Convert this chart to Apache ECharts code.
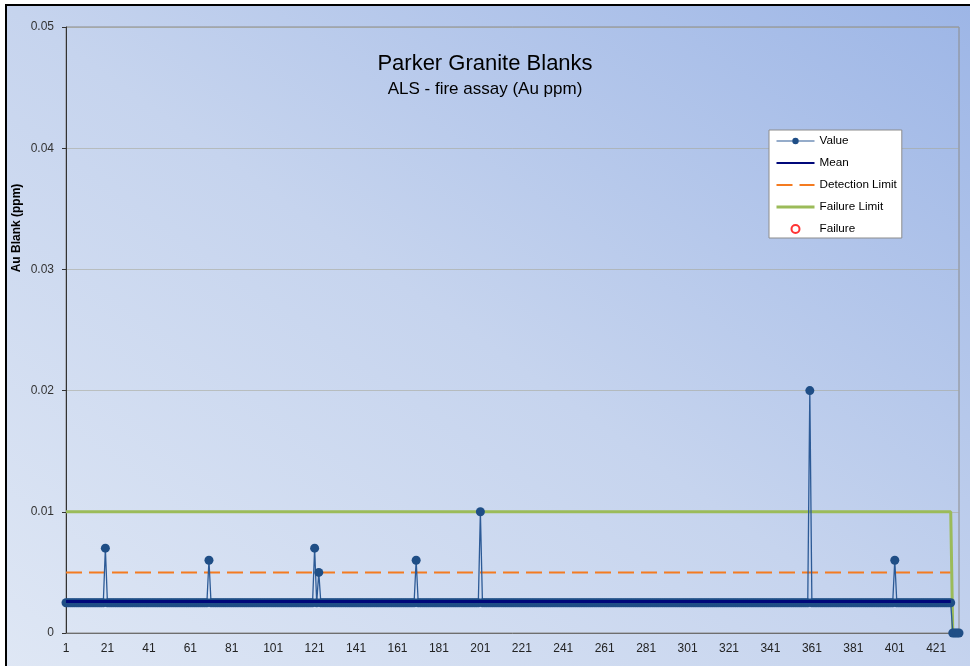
<!DOCTYPE html>
<html>
<head>
<meta charset="utf-8">
<title>Parker Granite Blanks</title>
<script src="https://cdn.jsdelivr.net/npm/echarts@6/dist/echarts.min.js"></script>
<style>
  html, body { margin: 0; padding: 0; background: #fff; }
  #frame {
    position: absolute; left: 5px; top: 4px; width: 990px; height: 700px;
    border: 2px solid #000;
    background: linear-gradient(to top right, #e0e8f5 0%, #c6d4ee 50%, #9cb5e6 100%);
  }
  #chart { position: absolute; left: 0; top: 0; width: 970px; height: 666px; }
</style>
</head>
<body>
<div id="frame"></div>
<div id="chart"></div>
<script>
// Sample sequence numbers along the x axis
const sampleCount = 432;
const samples = [];
for (let i = 1; i <= sampleCount; i++) samples.push(String(i));

// Au assay results (ppm), one per sample; below-detection results plotted at half the limit
const values = [
  /*   1 */ 0.0025,0.0025,0.0025,0.0025,0.0025,0.0025,0.0025,0.0025,0.0025,0.0025,0.0025,0.0025,0.0025,0.0025,0.0025,0.0025,0.0025,0.0025,0.0025,0.007,
  /*  21 */ 0.0025,0.0025,0.0025,0.0025,0.0025,0.0025,0.0025,0.0025,0.0025,0.0025,0.0025,0.0025,0.0025,0.0025,0.0025,0.0025,0.0025,0.0025,0.0025,0.0025,
  /*  41 */ 0.0025,0.0025,0.0025,0.0025,0.0025,0.0025,0.0025,0.0025,0.0025,0.0025,0.0025,0.0025,0.0025,0.0025,0.0025,0.0025,0.0025,0.0025,0.0025,0.0025,
  /*  61 */ 0.0025,0.0025,0.0025,0.0025,0.0025,0.0025,0.0025,0.0025,0.0025,0.006,0.0025,0.0025,0.0025,0.0025,0.0025,0.0025,0.0025,0.0025,0.0025,0.0025,
  /*  81 */ 0.0025,0.0025,0.0025,0.0025,0.0025,0.0025,0.0025,0.0025,0.0025,0.0025,0.0025,0.0025,0.0025,0.0025,0.0025,0.0025,0.0025,0.0025,0.0025,0.0025,
  /* 101 */ 0.0025,0.0025,0.0025,0.0025,0.0025,0.0025,0.0025,0.0025,0.0025,0.0025,0.0025,0.0025,0.0025,0.0025,0.0025,0.0025,0.0025,0.0025,0.0025,0.0025,
  /* 121 */ 0.007,0.0025,0.005,0.0025,0.0025,0.0025,0.0025,0.0025,0.0025,0.0025,0.0025,0.0025,0.0025,0.0025,0.0025,0.0025,0.0025,0.0025,0.0025,0.0025,
  /* 141 */ 0.0025,0.0025,0.0025,0.0025,0.0025,0.0025,0.0025,0.0025,0.0025,0.0025,0.0025,0.0025,0.0025,0.0025,0.0025,0.0025,0.0025,0.0025,0.0025,0.0025,
  /* 161 */ 0.0025,0.0025,0.0025,0.0025,0.0025,0.0025,0.0025,0.0025,0.0025,0.006,0.0025,0.0025,0.0025,0.0025,0.0025,0.0025,0.0025,0.0025,0.0025,0.0025,
  /* 181 */ 0.0025,0.0025,0.0025,0.0025,0.0025,0.0025,0.0025,0.0025,0.0025,0.0025,0.0025,0.0025,0.0025,0.0025,0.0025,0.0025,0.0025,0.0025,0.0025,0.0025,
  /* 201 */ 0.01,0.0025,0.0025,0.0025,0.0025,0.0025,0.0025,0.0025,0.0025,0.0025,0.0025,0.0025,0.0025,0.0025,0.0025,0.0025,0.0025,0.0025,0.0025,0.0025,
  /* 221 */ 0.0025,0.0025,0.0025,0.0025,0.0025,0.0025,0.0025,0.0025,0.0025,0.0025,0.0025,0.0025,0.0025,0.0025,0.0025,0.0025,0.0025,0.0025,0.0025,0.0025,
  /* 241 */ 0.0025,0.0025,0.0025,0.0025,0.0025,0.0025,0.0025,0.0025,0.0025,0.0025,0.0025,0.0025,0.0025,0.0025,0.0025,0.0025,0.0025,0.0025,0.0025,0.0025,
  /* 261 */ 0.0025,0.0025,0.0025,0.0025,0.0025,0.0025,0.0025,0.0025,0.0025,0.0025,0.0025,0.0025,0.0025,0.0025,0.0025,0.0025,0.0025,0.0025,0.0025,0.0025,
  /* 281 */ 0.0025,0.0025,0.0025,0.0025,0.0025,0.0025,0.0025,0.0025,0.0025,0.0025,0.0025,0.0025,0.0025,0.0025,0.0025,0.0025,0.0025,0.0025,0.0025,0.0025,
  /* 301 */ 0.0025,0.0025,0.0025,0.0025,0.0025,0.0025,0.0025,0.0025,0.0025,0.0025,0.0025,0.0025,0.0025,0.0025,0.0025,0.0025,0.0025,0.0025,0.0025,0.0025,
  /* 321 */ 0.0025,0.0025,0.0025,0.0025,0.0025,0.0025,0.0025,0.0025,0.0025,0.0025,0.0025,0.0025,0.0025,0.0025,0.0025,0.0025,0.0025,0.0025,0.0025,0.0025,
  /* 341 */ 0.0025,0.0025,0.0025,0.0025,0.0025,0.0025,0.0025,0.0025,0.0025,0.0025,0.0025,0.0025,0.0025,0.0025,0.0025,0.0025,0.0025,0.0025,0.0025,0.02,
  /* 361 */ 0.0025,0.0025,0.0025,0.0025,0.0025,0.0025,0.0025,0.0025,0.0025,0.0025,0.0025,0.0025,0.0025,0.0025,0.0025,0.0025,0.0025,0.0025,0.0025,0.0025,
  /* 381 */ 0.0025,0.0025,0.0025,0.0025,0.0025,0.0025,0.0025,0.0025,0.0025,0.0025,0.0025,0.0025,0.0025,0.0025,0.0025,0.0025,0.0025,0.0025,0.0025,0.0025,
  /* 401 */ 0.006,0.0025,0.0025,0.0025,0.0025,0.0025,0.0025,0.0025,0.0025,0.0025,0.0025,0.0025,0.0025,0.0025,0.0025,0.0025,0.0025,0.0025,0.0025,0.0025,
  /* 421 */ 0.0025,0.0025,0.0025,0.0025,0.0025,0.0025,0.0025,0.0025,0,0,0,0
];

// Reference levels (ppm) and the number of samples they span
const meanValue = 0.0026;
const detectionLimit = 0.005;
const failureLimit = 0.01;
const limitSpan = 428;

// Y axis ticks (ppm)
const yTicks = [0, 0.01, 0.02, 0.03, 0.04, 0.05];

const meanLine = samples.map((s, i) => (i < limitSpan ? meanValue : null));
const detectionLine = samples.map((s, i) => (i < limitSpan ? detectionLimit : null));
const failureLine = samples.map((s, i) => (i < limitSpan ? failureLimit : 0));

const FONT = 'Arial, "Liberation Sans", sans-serif';

const chart = echarts.init(document.getElementById('chart'), null, { renderer: 'canvas' });

chart.setOption({
  animation: false,
  backgroundColor: 'transparent',
  textStyle: { fontFamily: FONT },
  title: {
    text: 'Parker Granite Blanks',
    subtext: 'ALS - fire assay (Au ppm)',
    left: 'center',
    top: 48,
    itemGap: 6,
    textStyle: { fontSize: 22, fontWeight: 'normal', color: '#000', fontFamily: FONT },
    subtextStyle: { fontSize: 17, color: '#000', fontFamily: FONT }
  },
  graphic: [{
    type: 'text',
    x: 17,
    y: 228,
    rotation: Math.PI / 2,
    silent: true,
    style: {
      text: 'Au Blank (ppm)',
      font: 'bold 12px ' + FONT,
      fill: '#000',
      textAlign: 'center',
      textVerticalAlign: 'middle'
    }
  }],
  legend: {
    orient: 'vertical',
    left: 769,
    top: 130,
    backgroundColor: '#ffffff',
    borderColor: '#8c8c8c',
    borderWidth: 1,
    borderRadius: 0,
    padding: [5, 5, 3, 6],
    itemWidth: 38,
    itemHeight: 8,
    itemGap: 10,
    lineStyle: { width: 'inherit' },
    textStyle: { fontSize: 11.7, color: '#000', fontFamily: FONT },
    data: [
      { name: 'Value', lineStyle: { width: 1.2 } },
      { name: 'Mean', itemStyle: { opacity: 0 }, lineStyle: { width: 2 } },
      { name: 'Detection Limit', itemStyle: { opacity: 0 } },
      { name: 'Failure Limit', itemStyle: { opacity: 0 } },
      'Failure'
    ]
  },
  grid: {
    left: 66, right: 11, top: 27, bottom: 33,
    show: true,
    borderColor: '#8a8a8a',
    borderWidth: 1,
    backgroundColor: 'transparent'
  },
  xAxis: {
    type: 'category',
    data: samples,
    boundaryGap: false,
    axisLine: { show: true, lineStyle: { color: '#6e6e6e', width: 1 } },
    axisTick: { show: false },
    axisLabel: { interval: 19, margin: 10, fontSize: 12, color: '#222', fontFamily: FONT },
    splitLine: { show: false }
  },
  yAxis: {
    type: 'value',
    min: yTicks[0],
    max: yTicks[yTicks.length - 1],
    interval: 0.01,
    axisLine: { show: true, onZero: false, lineStyle: { color: '#333', width: 1 } },
    axisTick: { show: true, length: 4, lineStyle: { color: '#333' } },
    axisLabel: { margin: 12, fontSize: 12, color: '#333', fontFamily: FONT },
    splitLine: { show: true, lineStyle: { color: 'rgba(165,165,150,0.55)', width: 1 } }
  },
  series: [
    {
      name: 'Value',
      type: 'line',
      data: values,
      symbol: 'circle',
      symbolSize: 9,
      showAllSymbol: true,
      lineStyle: { color: '#2c5a96', width: 1.3 },
      itemStyle: { color: '#1f4e86' },
      z: 3
    },
    {
      name: 'Mean',
      type: 'line',
      data: meanLine,
      symbol: 'none',
      lineStyle: { color: '#00087a', width: 3 },
      itemStyle: { color: '#00087a' },
      z: 4
    },
    {
      name: 'Detection Limit',
      type: 'line',
      data: detectionLine,
      symbol: 'none',
      lineStyle: { color: '#f47b20', width: 2, type: [16, 7] },
      itemStyle: { color: '#f47b20' },
      z: 2
    },
    {
      name: 'Failure Limit',
      type: 'line',
      data: failureLine,
      symbol: 'none',
      lineStyle: { color: '#9bbb59', width: 3 },
      itemStyle: { color: '#9bbb59' },
      z: 2
    },
    {
      name: 'Failure',
      type: 'scatter',
      data: [],
      symbol: 'emptyCircle',
      symbolSize: 7,
      itemStyle: { color: '#ff0000', borderColor: '#ff0000', borderWidth: 1.5 },
      z: 5
    }
  ]
});
</script>
</body>
</html>
